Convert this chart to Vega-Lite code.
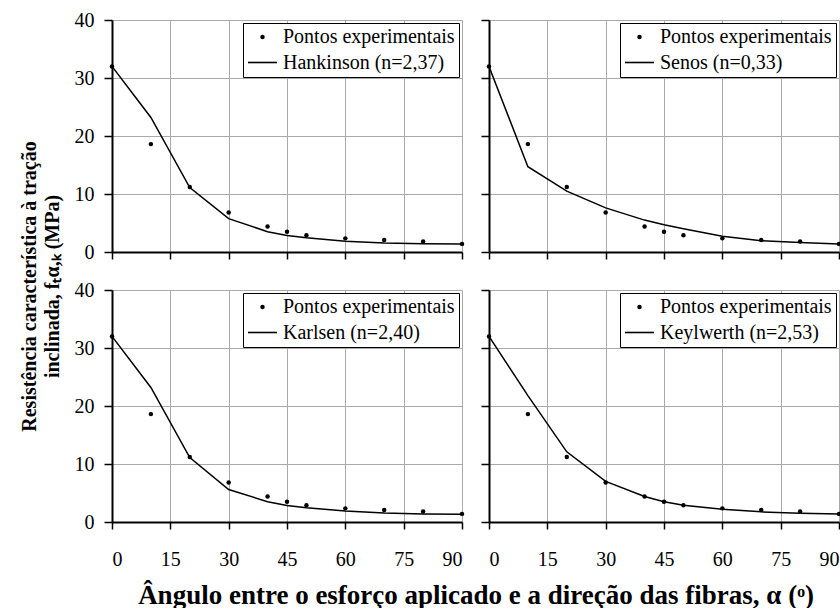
{
  "$schema": "https://vega.github.io/schema/vega-lite/v6.json",
  "padding": {"left": 19, "top": 10, "right": 0, "bottom": 0},
  "background": "white",
  "datasets": {
    "experimental": [
      {"angulo": 0, "resistencia": 32.0, "serie": "Pontos experimentais"},
      {"angulo": 10, "resistencia": 18.6, "serie": "Pontos experimentais"},
      {"angulo": 20, "resistencia": 11.2, "serie": "Pontos experimentais"},
      {"angulo": 30, "resistencia": 6.8, "serie": "Pontos experimentais"},
      {"angulo": 40, "resistencia": 4.4, "serie": "Pontos experimentais"},
      {"angulo": 45, "resistencia": 3.5, "serie": "Pontos experimentais"},
      {"angulo": 50, "resistencia": 2.9, "serie": "Pontos experimentais"},
      {"angulo": 60, "resistencia": 2.35, "serie": "Pontos experimentais"},
      {"angulo": 70, "resistencia": 2.05, "serie": "Pontos experimentais"},
      {"angulo": 80, "resistencia": 1.8, "serie": "Pontos experimentais"},
      {"angulo": 90, "resistencia": 1.4, "serie": "Pontos experimentais"}
    ],
    "modelos": [
      {"modelo": "Hankinson (n=2,37)", "angulo": 0, "resistencia": 32.0},
      {"modelo": "Hankinson (n=2,37)", "angulo": 10, "resistencia": 23.2},
      {"modelo": "Hankinson (n=2,37)", "angulo": 20, "resistencia": 11.1},
      {"modelo": "Hankinson (n=2,37)", "angulo": 30, "resistencia": 5.75},
      {"modelo": "Hankinson (n=2,37)", "angulo": 40, "resistencia": 3.5},
      {"modelo": "Hankinson (n=2,37)", "angulo": 45, "resistencia": 2.85},
      {"modelo": "Hankinson (n=2,37)", "angulo": 50, "resistencia": 2.45},
      {"modelo": "Hankinson (n=2,37)", "angulo": 60, "resistencia": 1.85},
      {"modelo": "Hankinson (n=2,37)", "angulo": 70, "resistencia": 1.55},
      {"modelo": "Hankinson (n=2,37)", "angulo": 80, "resistencia": 1.42},
      {"modelo": "Hankinson (n=2,37)", "angulo": 90, "resistencia": 1.38},
      {"modelo": "Senos (n=0,33)", "angulo": 0, "resistencia": 32.0},
      {"modelo": "Senos (n=0,33)", "angulo": 10, "resistencia": 14.7},
      {"modelo": "Senos (n=0,33)", "angulo": 20, "resistencia": 10.5},
      {"modelo": "Senos (n=0,33)", "angulo": 30, "resistencia": 7.6},
      {"modelo": "Senos (n=0,33)", "angulo": 40, "resistencia": 5.5},
      {"modelo": "Senos (n=0,33)", "angulo": 45, "resistencia": 4.7},
      {"modelo": "Senos (n=0,33)", "angulo": 50, "resistencia": 4.0},
      {"modelo": "Senos (n=0,33)", "angulo": 60, "resistencia": 2.7},
      {"modelo": "Senos (n=0,33)", "angulo": 70, "resistencia": 1.95},
      {"modelo": "Senos (n=0,33)", "angulo": 80, "resistencia": 1.65},
      {"modelo": "Senos (n=0,33)", "angulo": 90, "resistencia": 1.38},
      {"modelo": "Karlsen (n=2,40)", "angulo": 0, "resistencia": 32.0},
      {"modelo": "Karlsen (n=2,40)", "angulo": 10, "resistencia": 23.2},
      {"modelo": "Karlsen (n=2,40)", "angulo": 20, "resistencia": 11.1},
      {"modelo": "Karlsen (n=2,40)", "angulo": 30, "resistencia": 5.6},
      {"modelo": "Karlsen (n=2,40)", "angulo": 40, "resistencia": 3.5},
      {"modelo": "Karlsen (n=2,40)", "angulo": 45, "resistencia": 2.85},
      {"modelo": "Karlsen (n=2,40)", "angulo": 50, "resistencia": 2.45},
      {"modelo": "Karlsen (n=2,40)", "angulo": 60, "resistencia": 1.9},
      {"modelo": "Karlsen (n=2,40)", "angulo": 70, "resistencia": 1.55},
      {"modelo": "Karlsen (n=2,40)", "angulo": 80, "resistencia": 1.4},
      {"modelo": "Karlsen (n=2,40)", "angulo": 90, "resistencia": 1.35},
      {"modelo": "Keylwerth (n=2,53)", "angulo": 0, "resistencia": 32.0},
      {"modelo": "Keylwerth (n=2,53)", "angulo": 10, "resistencia": 21.8},
      {"modelo": "Keylwerth (n=2,53)", "angulo": 20, "resistencia": 12.1},
      {"modelo": "Keylwerth (n=2,53)", "angulo": 30, "resistencia": 7.0},
      {"modelo": "Keylwerth (n=2,53)", "angulo": 40, "resistencia": 4.4},
      {"modelo": "Keylwerth (n=2,53)", "angulo": 45, "resistencia": 3.5},
      {"modelo": "Keylwerth (n=2,53)", "angulo": 50, "resistencia": 2.9},
      {"modelo": "Keylwerth (n=2,53)", "angulo": 60, "resistencia": 2.2},
      {"modelo": "Keylwerth (n=2,53)", "angulo": 70, "resistencia": 1.75},
      {"modelo": "Keylwerth (n=2,53)", "angulo": 80, "resistencia": 1.5},
      {"modelo": "Keylwerth (n=2,53)", "angulo": 90, "resistencia": 1.38}
    ]
  },
  "columns": 2,
  "spacing": {"row": 38, "column": 27},
  "bounds": "flush",
  "concat": [
    {
      "width": 350, "height": 232,
      "layer": [
        {
          "data": {"name": "modelos"},
          "transform": [{"filter": {"field": "modelo", "equal": "Hankinson (n=2,37)"}}],
          "mark": {"type": "line", "color": "black", "strokeWidth": 1.5},
          "encoding": {
            "x": {"field": "angulo", "type": "quantitative", "scale": {"domain": [0, 90], "nice": false},
                  "axis": {"values": [0, 15, 30, 45, 60, 75, 90], "labels": false, "title": null, "tickSize": 7}},
            "y": {"field": "resistencia", "type": "quantitative", "scale": {"domain": [0, 40], "nice": false},
                  "axis": {"values": [0, 10, 20, 30, 40], "tickSize": 8, "labelPadding": 10,
                           "title": ["Resistência característica à tração", "inclinada, fₜα,ₖ (MPa)"],
                           "titleY": 266, "titlePadding": 12, "titleLineHeight": 23}}
          }
        },
        {
          "data": {"name": "experimental"},
          "mark": {"type": "point", "filled": true, "color": "black", "opacity": 1},
          "encoding": {
            "x": {"field": "angulo", "type": "quantitative"},
            "y": {"field": "resistencia", "type": "quantitative"},
            "shape": {"field": "serie", "type": "nominal", "scale": {"domain": ["Pontos experimentais", "Hankinson (n=2,37)"], "range": ["circle", "M-1,-0.055H1V0.055H-1Z"]},
                      "legend": {"title": null}},
            "size": {"field": "serie", "type": "nominal", "scale": {"domain": ["Pontos experimentais", "Hankinson (n=2,37)"], "range": [20, 841]},
                     "legend": {"title": null}}
          }
        }
      ]
    },
    {
      "width": 350, "height": 232,
      "layer": [
        {
          "data": {"name": "modelos"},
          "transform": [{"filter": {"field": "modelo", "equal": "Senos (n=0,33)"}}],
          "mark": {"type": "line", "color": "black", "strokeWidth": 1.5},
          "encoding": {
            "x": {"field": "angulo", "type": "quantitative", "scale": {"domain": [0, 90], "nice": false},
                  "axis": {"values": [0, 15, 30, 45, 60, 75, 90], "labels": false, "title": null, "tickSize": 7}},
            "y": {"field": "resistencia", "type": "quantitative", "scale": {"domain": [0, 40], "nice": false},
                  "axis": {"values": [0, 10, 20, 30, 40], "tickSize": 8, "labels": false, "title": null}}
          }
        },
        {
          "data": {"name": "experimental"},
          "mark": {"type": "point", "filled": true, "color": "black", "opacity": 1},
          "encoding": {
            "x": {"field": "angulo", "type": "quantitative"},
            "y": {"field": "resistencia", "type": "quantitative"},
            "shape": {"field": "serie", "type": "nominal", "scale": {"domain": ["Pontos experimentais", "Senos (n=0,33)"], "range": ["circle", "M-1,-0.055H1V0.055H-1Z"]},
                      "legend": {"title": null}},
            "size": {"field": "serie", "type": "nominal", "scale": {"domain": ["Pontos experimentais", "Senos (n=0,33)"], "range": [20, 841]},
                     "legend": {"title": null}}
          }
        }
      ]
    },
    {
      "width": 350, "height": 232,
      "layer": [
        {
          "data": {"name": "modelos"},
          "transform": [{"filter": {"field": "modelo", "equal": "Karlsen (n=2,40)"}}],
          "mark": {"type": "line", "color": "black", "strokeWidth": 1.5},
          "encoding": {
            "x": {"field": "angulo", "type": "quantitative", "scale": {"domain": [0, 90], "nice": false},
                  "axis": {"values": [0, 15, 30, 45, 60, 75, 90], "tickSize": 7, "labelPadding": 20,
                           "title": "Ângulo entre o esforço aplicado e a direção das fibras, α (ᵒ)",
                           "titleFontSize": 27, "titleX": 363.5, "titlePadding": 13}},
            "y": {"field": "resistencia", "type": "quantitative", "scale": {"domain": [0, 40], "nice": false},
                  "axis": {"values": [0, 10, 20, 30, 40], "tickSize": 8, "labelPadding": 10, "title": null}}
          }
        },
        {
          "data": {"name": "experimental"},
          "mark": {"type": "point", "filled": true, "color": "black", "opacity": 1},
          "encoding": {
            "x": {"field": "angulo", "type": "quantitative"},
            "y": {"field": "resistencia", "type": "quantitative"},
            "shape": {"field": "serie", "type": "nominal", "scale": {"domain": ["Pontos experimentais", "Karlsen (n=2,40)"], "range": ["circle", "M-1,-0.055H1V0.055H-1Z"]},
                      "legend": {"title": null}},
            "size": {"field": "serie", "type": "nominal", "scale": {"domain": ["Pontos experimentais", "Karlsen (n=2,40)"], "range": [20, 841]},
                     "legend": {"title": null}}
          }
        }
      ]
    },
    {
      "width": 350, "height": 232,
      "layer": [
        {
          "data": {"name": "modelos"},
          "transform": [{"filter": {"field": "modelo", "equal": "Keylwerth (n=2,53)"}}],
          "mark": {"type": "line", "color": "black", "strokeWidth": 1.5},
          "encoding": {
            "x": {"field": "angulo", "type": "quantitative", "scale": {"domain": [0, 90], "nice": false},
                  "axis": {"values": [0, 15, 30, 45, 60, 75, 90], "tickSize": 7, "labelPadding": 20, "title": null}},
            "y": {"field": "resistencia", "type": "quantitative", "scale": {"domain": [0, 40], "nice": false},
                  "axis": {"values": [0, 10, 20, 30, 40], "tickSize": 8, "labels": false, "title": null}}
          }
        },
        {
          "data": {"name": "experimental"},
          "mark": {"type": "point", "filled": true, "color": "black", "opacity": 1},
          "encoding": {
            "x": {"field": "angulo", "type": "quantitative"},
            "y": {"field": "resistencia", "type": "quantitative"},
            "shape": {"field": "serie", "type": "nominal", "scale": {"domain": ["Pontos experimentais", "Keylwerth (n=2,53)"], "range": ["circle", "M-1,-0.055H1V0.055H-1Z"]},
                      "legend": {"title": null}},
            "size": {"field": "serie", "type": "nominal", "scale": {"domain": ["Pontos experimentais", "Keylwerth (n=2,53)"], "range": [20, 841]},
                     "legend": {"title": null}}
          }
        }
      ]
    }
  ],
  "resolve": {
    "scale": {"shape": "independent", "size": "independent"},
    "legend": {"shape": "independent", "size": "independent"}
  },
  "config": {
    "font": "Liberation Serif",
    "view": {"stroke": null},
    "axis": {
      "domainColor": "black", "domainWidth": 2,
      "tickColor": "black", "tickWidth": 1.5,
      "gridColor": "#aaaaaa", "gridWidth": 1,
      "labelFont": "Liberation Serif", "labelFontSize": 20, "labelColor": "black",
      "titleFont": "Liberation Serif", "titleFontSize": 20, "titleFontWeight": "bold", "titleColor": "black"
    },
    "axisX": {"labelPadding": 20},
    "axisY": {"labelPadding": 10},
    "legend": {
      "orient": "top-right", "offset": 3,
      "strokeColor": "black", "fillColor": "white", "padding": 4, "cornerRadius": 0,
      "labelFont": "Liberation Serif", "labelFontSize": 20, "labelColor": "black", "labelLimit": 400,
      "labelOffset": 5, "rowPadding": -9,
      "symbolFillColor": "black", "symbolOpacity": 1
    }
  }
}
